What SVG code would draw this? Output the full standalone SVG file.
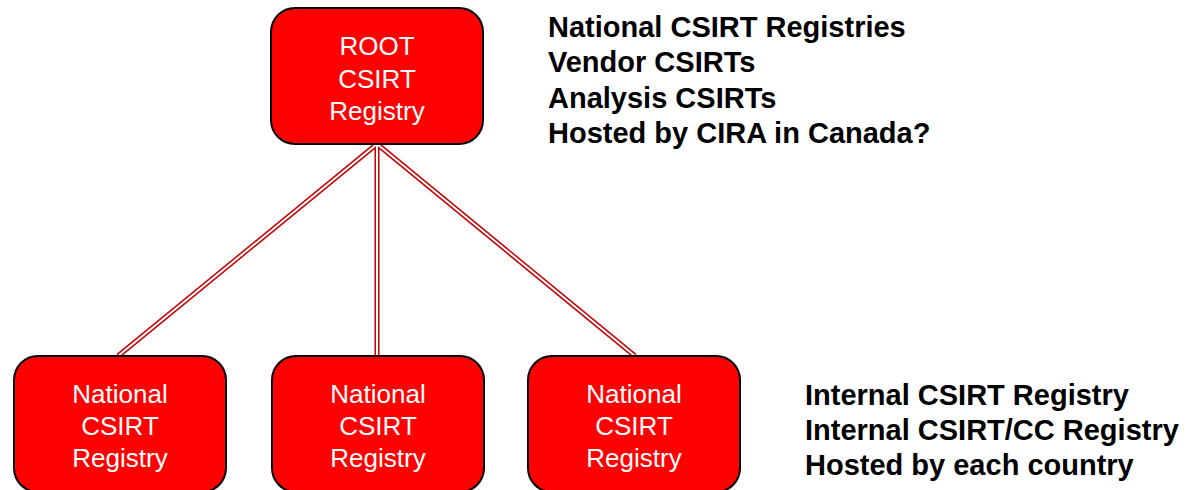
<svg xmlns="http://www.w3.org/2000/svg" width="1195" height="490" viewBox="0 0 1195 490">
  <style>
    .box { fill: #ff0000; stroke: #000000; stroke-width: 2; }
    .lbl { font-family: "Liberation Sans", Arial, sans-serif; font-size: 26px; fill: #ffffff; text-anchor: middle; }
    .note { font-family: "Liberation Sans", Arial, sans-serif; font-size: 29px; font-weight: bold; fill: #000000; }
    .link-outer { stroke: #c00000; stroke-width: 5; fill: none; }
    .link-inner { stroke: #ffffff; stroke-width: 2; fill: none; }
  </style>
  <rect width="1195" height="490" fill="#ffffff"/>

  <!-- double-line links from the root to each national registry -->
  <g id="connectors">
    <g class="link-outer">
      <line x1="377" y1="144" x2="118" y2="356"/>
      <line x1="377" y1="144" x2="377" y2="356"/>
      <line x1="377" y1="144" x2="635" y2="356"/>
    </g>
    <g class="link-inner">
      <line x1="377" y1="144" x2="118" y2="356"/>
      <line x1="377" y1="144" x2="377" y2="356"/>
      <line x1="377" y1="144" x2="635" y2="356"/>
    </g>
  </g>

  <g id="root">
    <rect class="box" x="271" y="8" width="212" height="136" rx="24"/>
    <text class="lbl" x="377" y="55">ROOT</text>
    <text class="lbl" x="377" y="88">CSIRT</text>
    <text class="lbl" x="377" y="120">Registry</text>
  </g>

  <g id="national-1">
    <rect class="box" x="14" y="356" width="212" height="136" rx="24"/>
    <text class="lbl" x="120" y="403">National</text>
    <text class="lbl" x="120" y="435">CSIRT</text>
    <text class="lbl" x="120" y="467">Registry</text>
  </g>

  <g id="national-2">
    <rect class="box" x="272" y="356" width="212" height="136" rx="24"/>
    <text class="lbl" x="378" y="403">National</text>
    <text class="lbl" x="378" y="435">CSIRT</text>
    <text class="lbl" x="378" y="467">Registry</text>
  </g>

  <g id="national-3">
    <rect class="box" x="528" y="356" width="212" height="136" rx="24"/>
    <text class="lbl" x="634" y="403">National</text>
    <text class="lbl" x="634" y="435">CSIRT</text>
    <text class="lbl" x="634" y="467">Registry</text>
  </g>

  <g id="root-notes">
    <text class="note" x="548" y="37">National CSIRT Registries</text>
    <text class="note" x="548" y="72">Vendor CSIRTs</text>
    <text class="note" x="548" y="108">Analysis CSIRTs</text>
    <text class="note" x="548" y="143">Hosted by CIRA in Canada?</text>
  </g>

  <g id="national-notes">
    <text class="note" x="805" y="405">Internal CSIRT Registry</text>
    <text class="note" x="805" y="440">Internal CSIRT/CC Registry</text>
    <text class="note" x="805" y="475">Hosted by each country</text>
  </g>
</svg>
